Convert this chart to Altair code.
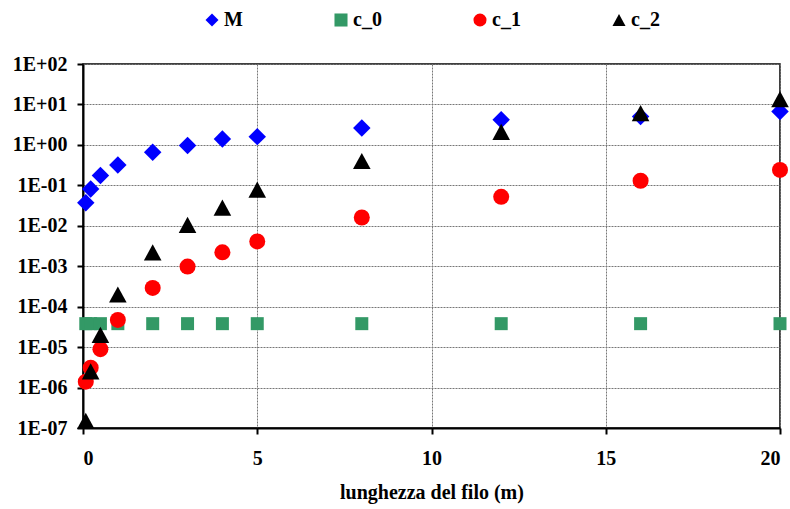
import altair as alt
import pandas as pd

# x positions (m)
x_vals = [0.08, 0.22, 0.5, 1, 2, 3, 4, 5, 8, 12, 16, 20]

M = [0.037, 0.081, 0.175, 0.32, 0.66, 0.97, 1.39, 1.6, 2.6, 4.2, 5.0, 6.7]
c_0 = [3.8e-5] * 12
c_1 = [1.4e-6, 3.1e-6, 8.9e-6, 4.7e-5, 2.9e-4, 9.8e-4, 2.2e-3, 4.1e-3, 0.016, 0.052, 0.13, 0.24]
c_2 = [1.5e-7, 2.5e-6, 2.0e-5, 2.0e-4, 2.2e-3, 0.0105, 0.028, 0.078, 0.4, 2.1, 6.1, 13.6]

series_names = ["M", "c_0", "c_1", "c_2"]
series_values = [M, c_0, c_1, c_2]
colors = ["#0000FF", "#339966", "#FF0000", "#000000"]
shapes = ["diamond", "square", "circle", "M0,-0.92L1,0.92L-1,0.92Z"]
sizes = [305, 169, 256, 310]

y_ticks = [1e-7, 1e-6, 1e-5, 1e-4, 1e-3, 1e-2, 1e-1, 1, 10, 100]
x_ticks = [0, 5, 10, 15, 20]

FONT = "Liberation Serif"
FS = 20

label_expr = ("'1E' + (round(log(datum.value)/LN10) >= 0 ? '+' : '-') + "
              "format(abs(round(log(datum.value)/LN10)), '02d')")

legend = alt.Legend(title=None, orient="none", legendX=119, legendY=-54,
                    direction="horizontal", columns=4, columnPadding=88,
                    labelOffset=2, symbolSize=170, padding=0,
                    symbolStrokeWidth=0)

layers = []
for name, vals, sz in zip(series_names, series_values, sizes):
    df = pd.DataFrame({"x": x_vals, "y": vals, "serie": [name] * len(vals)})
    layer = alt.Chart(df).mark_point(filled=True, opacity=1, strokeWidth=0, size=sz,
                                     clip=False).encode(
        x=alt.X("x:Q",
                scale=alt.Scale(domain=[0, 20], nice=False, zero=False),
                axis=alt.Axis(values=x_ticks, title="lunghezza del filo (m)", format="d",
                              labelPadding=14, titlePadding=14, tickSize=6)),
        y=alt.Y("y:Q",
                scale=alt.Scale(type="log", domain=[1e-7, 100], nice=False),
                axis=alt.Axis(values=y_ticks, title=None, labelExpr=label_expr,
                              labelPadding=10, tickSize=6)),
        fill=alt.Fill("serie:N", scale=alt.Scale(domain=series_names, range=colors),
                      legend=legend),
        shape=alt.Shape("serie:N", scale=alt.Scale(domain=series_names, range=shapes),
                        legend=legend),
    )
    layers.append(layer)

chart = alt.layer(*layers).properties(
    width=697, height=364,
    background="white",
    autosize=alt.AutoSizeParams(type="none"),
    padding={"left": 83, "top": 64, "right": 10, "bottom": 81},
).configure_view(
    stroke="#000000", strokeWidth=1.5, fill="white"
).configure_axis(
    labelFont=FONT, labelFontSize=FS, labelFontWeight="bold", labelColor="#000000",
    titleFont=FONT, titleFontSize=FS, titleFontWeight="bold", titleColor="#000000",
    domainColor="#000000", domainWidth=2, tickColor="#000000", tickWidth=2,
    gridColor="#777777", gridDash=[2, 1], gridWidth=1, grid=True,
).configure_legend(
    labelFont=FONT, labelFontSize=FS, labelFontWeight="bold", labelColor="#000000",
)

chart.save("out.html", embed_options={"renderer": "svg", "actions": False})
